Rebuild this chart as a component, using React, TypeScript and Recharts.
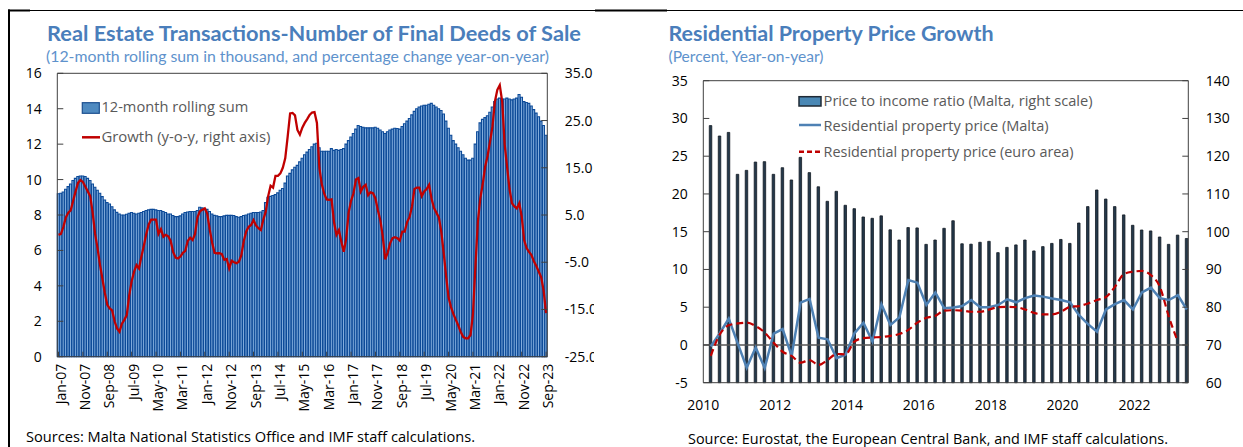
import React from 'react';
import { ComposedChart, Bar, Line, XAxis, YAxis, ReferenceLine, Legend } from 'recharts';

// ---------- Left panel data (monthly, Jan-07 .. Sep-23) ----------
const rollingSum = [
  9.2, 9.23, 9.3, 9.45, 9.6, 9.75, 9.95, 10.07, 10.17, 10.2,
  10.2, 10.17, 10.07, 9.95, 9.75, 9.57, 9.4, 9.23, 9.04, 8.85,
  8.7, 8.62, 8.47, 8.29, 8.15, 8.06, 8.0, 8.0, 8.04, 8.1,
  8.14, 8.1, 8.06, 8.1, 8.14, 8.2, 8.25, 8.29, 8.32, 8.32,
  8.29, 8.25, 8.25, 8.2, 8.14, 8.06, 8.06, 7.97, 7.91, 7.91,
  7.95, 8.06, 8.14, 8.17, 8.2, 8.2, 8.2, 8.25, 8.44, 8.4,
  8.36, 8.32, 8.2, 8.06, 7.98, 7.95, 7.91, 7.91, 7.95, 7.98,
  7.98, 7.98, 7.97, 7.91, 7.87, 7.91, 7.97, 8.0, 8.06, 8.1,
  8.14, 8.14, 8.14, 8.17, 8.25, 8.7, 9.0, 9.05, 9.1, 9.15,
  9.25, 9.4, 9.5, 9.8, 10.2, 10.35, 10.55, 10.7, 10.8, 11.0,
  11.2, 11.4, 11.55, 11.7, 11.85, 12.0, 12.05, 11.8, 11.6, 11.6,
  11.6, 11.6, 11.75, 11.65, 11.7, 11.65, 11.7, 11.75, 12.0, 12.2,
  12.4, 12.6, 12.85, 13.05, 13.0, 12.95, 12.92, 12.92, 12.92, 12.92,
  12.95, 12.9, 12.8, 12.7, 12.6, 12.7, 12.8, 12.85, 12.9, 12.88,
  12.85, 13.0, 13.15, 13.3, 13.45, 13.65, 13.85, 14.0, 14.1, 14.15,
  14.2, 14.2, 14.25, 14.3, 14.2, 14.1, 14.0, 13.9, 13.7, 13.3,
  12.9, 12.5, 12.2, 12.0, 11.8, 11.6, 11.4, 11.2, 11.1, 11.1,
  11.2, 12.0, 12.7, 13.2, 13.4, 13.5, 13.6, 13.8, 14.1, 14.4,
  14.55, 14.6, 14.55, 14.55, 14.6, 14.55, 14.5, 14.55, 14.6, 14.8,
  14.65, 14.4, 14.35, 14.3, 14.15, 13.95, 13.75, 13.55, 13.3, 13.05,
  12.5,
];

const growth = [
  0.8, 1.0, 2.5, 4.5, 5.5, 6.0, 8.0, 10.0, 11.8, 12.4,
  12.0, 11.0, 10.0, 9.0, 5.5, 1.0, -2.0, -5.5, -8.5, -11.5,
  -14.0, -14.8, -15.2, -17.5, -19.0, -19.7, -18.0, -17.2, -16.2, -12.0,
  -9.0, -7.0, -5.6, -6.3, -3.8, -1.5, 1.0, 3.0, 4.0, 4.0,
  4.0, 1.0, 2.0, 0.4, 0.8, 0.5, -0.5, -2.8, -4.0, -4.2,
  -3.8, -3.0, -2.6, -0.5, 0.2, -0.3, 1.0, 4.5, 5.8, 6.1,
  6.4, 5.3, 2.0, -0.8, -3.0, -3.1, -3.1, -3.3, -4.5, -4.3,
  -6.3, -4.7, -5.0, -5.2, -4.9, -3.5, -0.5, 1.5, 2.5, 2.9,
  3.9, 2.8, 2.2, 1.8, 4.0, 5.7, 9.0, 11.2, 10.8, 13.3,
  13.3, 13.8, 15.0, 17.0, 21.6, 26.5, 26.6, 26.1, 23.0, 22.0,
  23.5, 24.5, 25.3, 26.2, 26.7, 26.8, 24.5, 15.0, 11.5, 9.5,
  8.3, 8.2, 8.3, 3.5, 0.8, 1.8, -0.6, -2.8, 0.0, 5.5,
  8.0, 9.6, 12.5, 12.8, 10.0, 11.0, 11.4, 9.2, 9.8, 9.6,
  8.5, 6.0, 3.9, 0.5, -4.4, -3.0, -1.0, 0.1, 0.3, 0.1,
  -0.4, 1.5, 1.5, 3.5, 4.6, 6.8, 10.5, 10.8, 10.8, 9.0,
  10.0, 10.5, 11.4, 8.5, 6.5, 5.5, 4.5, 1.5, -3.0, -8.0,
  -12.5, -14.5, -16.0, -17.2, -18.4, -19.8, -20.8, -21.1, -21.1, -20.4,
  -16.0, -6.0, 3.5, 8.5, 11.5, 15.2, 17.5, 20.5, 23.7, 29.0,
  31.5, 32.5, 29.0, 20.0, 15.2, 10.5, 7.5, 6.8, 6.4, 7.5,
  4.7, -0.3, -2.0, -2.8, -3.5, -4.8, -5.8, -7.0, -8.2, -11.0,
  -15.8,
];

const MONTH_ABBR = ['Jan', 'Feb', 'Mar', 'Apr', 'May', 'Jun', 'Jul', 'Aug', 'Sep', 'Oct', 'Nov', 'Dec'];
const FIRST_YEAR = 2007;
const monthLabels = rollingSum.map(
  (_, i) => `${MONTH_ABBR[i % 12]}-${String((FIRST_YEAR + Math.floor(i / 12)) % 100).padStart(2, '0')}`
);

const leftTicks = [0, 2, 4, 6, 8, 10, 12, 14, 16];
const leftTicks2 = [-25, -15, -5, 5, 15, 25, 35];

const leftSeriesNames = ['12-month rolling sum', 'Growth (y-o-y, right axis)'];

// ---------- Right panel data (quarterly, 2010Q1 .. 2023Q2) ----------
const quarterLabels: string[] = [];
for (let y = 2010; y <= 2023; y++) for (let q = 1; q <= 4; q++) if (quarterLabels.length < 54) quarterLabels.push(`${y}Q${q}`);

const priceToIncome = [
  128.1, 125.35, 126.3, 115.2, 116.25, 118.45, 118.55, 115.2, 116.95, 113.7,
  119.7, 115.65, 111.9, 108.05, 110.7, 107.0, 106.1, 103.9, 103.55, 104.2,
  100.5, 97.8, 101.1, 101.0, 96.65, 97.8, 100.9, 102.9, 96.8, 96.7,
  97.2, 97.45, 94.45, 95.85, 96.5, 97.8, 94.9, 96.05, 96.9, 97.95,
  96.9, 102.3, 106.65, 111.05, 108.65, 106.65, 104.45, 101.7, 100.45, 100.2,
  98.6, 96.65, 99.1, 98.2,
];

const maltaPrice = [
  -0.2, 1.55, 3.5, 0.2, -3.0, -0.35, -3.05, 1.5, 2.1, -1.45,
  5.6, 6.1, 0.95, 0.75, -1.75, -1.3, 1.55, 2.95, 0.45, 5.4,
  2.65, 3.65, 8.6, 8.25, 5.3, 6.95, 4.85, 4.95, 5.15, 5.95,
  5.0, 5.0, 5.3, 6.05, 5.65, 6.2, 6.55, 6.4, 6.15, 5.95,
  5.65, 3.95, 2.75, 1.75, 4.7, 5.4, 5.95, 4.7, 6.95, 7.6,
  6.2, 5.95, 6.6, 4.7,
];

const euroPrice: (number | null)[] = [
  -1.45, 1.4, 2.6, 2.85, 2.95, 2.5, 1.65, 0.3, -0.9, -1.45,
  -2.35, -2.0, -2.65, -2.0, -1.2, -1.25, 0.45, 0.9, 1.0, 1.05,
  1.2, 1.45, 2.0, 2.95, 3.6, 3.85, 4.55, 4.6, 4.55, 4.4,
  4.4, 4.7, 5.0, 5.05, 5.0, 4.7, 4.25, 4.05, 4.05, 4.4,
  5.05, 5.15, 5.5, 5.95, 6.35, 7.7, 9.4, 9.7, 9.8, 9.25,
  7.7, 3.75, 0.45, null,
];

const rightTicks = [-5, 0, 5, 10, 15, 20, 25, 30, 35];
const rightTicks2 = [60, 70, 80, 90, 100, 110, 120, 130, 140];
const yearTicks = [2010, 2012, 2014, 2016, 2018, 2020, 2022];

const rightSeriesNames = [
  'Price to income ratio (Malta, right scale)',
  'Residential property price (Malta)',
  'Residential property price (euro area)',
];

// ---------- Build tables ----------
const leftData = monthLabels.map((m, i) => ({ month: m, sum: rollingSum[i], growth: growth[i] }));

// each quarter plotted at the middle of its last month
const quarterTime = (label: string) => {
  const y = Number(label.slice(0, 4));
  const q = Number(label.slice(5));
  return y + (q * 3 - 0.5) / 12;
};
const rightData = quarterLabels.map((q, i) => ({
  t: quarterTime(q),
  pti: priceToIncome[i],
  malta: maltaPrice[i],
  euro: euroPrice[i],
}));

// ---------- Styles ----------
const FONT = "'Open Sans', 'DejaVu Sans', sans-serif";
const TITLE_FONT = "Lato, 'Open Sans', sans-serif";
const AXIS = '#404040';
const LABEL_FS = 14;
const TITLE_COLOR = '#4A7EBB';
const SUB_COLOR = '#5E92CC';
const LEGEND_COLOR = '#595959';
const RED = '#C00000';
const BLUE_LINE = '#4E81B4';

const LeftYTick = (props: any) => {
  const { x, y, payload } = props;
  return (
    <g>
      <line x1={x} x2={x + 6} y1={y} y2={y} stroke={AXIS} />
      <text x={x - 15.5} y={y} dy={5} textAnchor="end" fontSize={LABEL_FS} fontFamily={FONT} fill="#000">
        {payload.value}
      </text>
    </g>
  );
};

const makeRightYTick = (fmt: (v: number) => string) => (props: any) => {
  const { x, y, payload } = props;
  return (
    <g>
      <line x1={x} x2={x - 6} y1={y} y2={y} stroke={AXIS} />
      <text x={x + 17.5} y={y} dy={5} textAnchor="start" fontSize={LABEL_FS} fontFamily={FONT} fill="#000">
        {fmt(payload.value)}
      </text>
    </g>
  );
};
const GrowthTick = makeRightYTick((v) => v.toFixed(1));
const RatioTick = makeRightYTick((v) => String(v));

const MonthTick = (props: any) => {
  const { x, y, payload } = props;
  return (
    <g>
      <line x1={x} x2={x} y1={y} y2={y - 5} stroke={AXIS} />
      <text
        transform={`translate(${x + 7},${y + 7}) rotate(-90)`}
        textAnchor="end"
        fontSize={LABEL_FS}
        fontFamily={FONT}
        fill="#000"
      >
        {payload.value}
      </text>
    </g>
  );
};

const YearTick = (props: any) => {
  const { x, y, payload } = props;
  return (
    <text x={x} y={y + 27} textAnchor="middle" fontSize={LABEL_FS} fontFamily={FONT} fill="#000">
      {payload.value}
    </text>
  );
};

const LeftLegend = () => (
  <svg width={200} height={50} style={{ display: 'block' }}>
    <rect x={4.3} y={6.7} width={17} height={10.6} fill="#4F8AC0" stroke="#1C4F8F" strokeWidth={1.2} />
    <text x={23.4} y={11.3} dy={5} fontSize={14.5} fontFamily={FONT} fill={LEGEND_COLOR} textLength={147} lengthAdjust="spacingAndGlyphs">
      {leftSeriesNames[0]}
    </text>
    <line x1={4} x2={22} y1={41.3} y2={41.3} stroke={RED} strokeWidth={2.5} />
    <text x={23.4} y={40.7} dy={5} fontSize={14.5} fontFamily={FONT} fill={LEGEND_COLOR} textLength={169} lengthAdjust="spacingAndGlyphs">
      {leftSeriesNames[1]}
    </text>
  </svg>
);

const RightLegend = () => (
  <svg width={300} height={75} style={{ display: 'block' }}>
    <rect x={4} y={6.7} width={22} height={9.3} fill="#4A88B5" stroke="#1F2A35" strokeWidth={1.5} />
    <text x={28.6} y={10.5} dy={5} fontSize={14.5} fontFamily={FONT} fill={LEGEND_COLOR} textLength={269} lengthAdjust="spacingAndGlyphs">
      {rightSeriesNames[0]}
    </text>
    <line x1={4} x2={26} y1={35} y2={35} stroke={BLUE_LINE} strokeWidth={2.5} />
    <text x={28.6} y={36} dy={5} fontSize={14.5} fontFamily={FONT} fill={LEGEND_COLOR} textLength={225} lengthAdjust="spacingAndGlyphs">
      {rightSeriesNames[1]}
    </text>
    <line x1={4} x2={26} y1={61.7} y2={61.7} stroke={RED} strokeWidth={2.5} strokeDasharray="5 3" />
    <text x={28.6} y={61.7} dy={5} fontSize={14.5} fontFamily={FONT} fill={LEGEND_COLOR} textLength={250} lengthAdjust="spacingAndGlyphs">
      {rightSeriesNames[2]}
    </text>
  </svg>
);

export default function App() {
  return (
    <div style={{ position: 'absolute', left: 0, top: 0, width: 1243, height: 447, background: '#fff', overflow: 'hidden' }}>
      <svg style={{ position: 'absolute', left: 0, top: 0 }} width={1243} height={447}>
        <line x1={8} x2={1243} y1={10.5} y2={10.5} stroke="#000" strokeWidth={1} />
        <line x1={8} x2={30} y1={10.5} y2={10.5} stroke="#000" strokeWidth={2} />
        <line x1={595} x2={667} y1={10.5} y2={10.5} stroke="#000" strokeWidth={2} />
        <line x1={9} x2={9} y1={9.5} y2={447} stroke="#000" strokeWidth={2} />

        <text x={47} y={41} fontFamily={TITLE_FONT} fontWeight={700} fontSize={20.5} fill={TITLE_COLOR} textLength={534} lengthAdjust="spacingAndGlyphs">
          Real Estate Transactions-Number of Final Deeds of Sale
        </text>
        <text x={46} y={61.5} fontFamily={TITLE_FONT} fontSize={15.5} fill={SUB_COLOR} textLength={503} lengthAdjust="spacingAndGlyphs">
          (12-month rolling sum in thousand, and percentage change year-on-year)
        </text>
        <text x={26} y={442} fontFamily={FONT} fontSize={14} fill="#000" textLength={449} lengthAdjust="spacingAndGlyphs">
          Sources: Malta National Statistics Office and IMF staff calculations.
        </text>

        <text x={668.5} y={41} fontFamily={TITLE_FONT} fontWeight={700} fontSize={20.5} fill={TITLE_COLOR} textLength={325} lengthAdjust="spacingAndGlyphs">
          Residential Property Price Growth
        </text>
        <text x={668.5} y={61.5} fontFamily={TITLE_FONT} fontSize={15.5} fill={SUB_COLOR} textLength={155} lengthAdjust="spacingAndGlyphs">
          (Percent, Year-on-year)
        </text>
        <text x={688} y={444} fontFamily={FONT} fontSize={14} fill="#000" textLength={480} lengthAdjust="spacingAndGlyphs">
          Source: Eurostat, the European Central Bank, and IMF staff calculations.
        </text>
      </svg>

      {/* Left chart */}
      <div style={{ position: 'absolute', left: 0, top: 0, width: 594, height: 447, overflow: 'hidden' }}>
        <ComposedChart
          width={620}
          height={447}
          data={leftData}
          margin={{ top: 73.3, right: 22.7, bottom: 30.3, left: 17.3 }}
          barCategoryGap={0}
          barGap={0}
        >
          <XAxis
            dataKey="month"
            interval={9}
            tickSize={0}
            tickMargin={0}
            height={60}
            axisLine={{ stroke: AXIS }}
            tick={MonthTick}
          />
          <YAxis
            yAxisId="left"
            domain={[0, 16]}
            ticks={leftTicks}
            interval={0}
            width={40}
            tickSize={0}
            tickMargin={0}
            axisLine={{ stroke: AXIS }}
            tick={LeftYTick}
          />
          <YAxis
            yAxisId="right"
            orientation="right"
            domain={[-25, 35]}
            ticks={leftTicks2}
            interval={0}
            width={50}
            tickSize={0}
            tickMargin={0}
            axisLine={{ stroke: AXIS }}
            tick={GrowthTick}
          />
          <ReferenceLine yAxisId="left" y={16} stroke={AXIS} />
          <Bar
            yAxisId="left"
            dataKey="sum"
            name={leftSeriesNames[0]}
            fill="#8FB8E4"
            stroke="#0C4A98"
            strokeWidth={1.1}
            isAnimationActive={false}
          />
          <Line
            yAxisId="right"
            dataKey="growth"
            name={leftSeriesNames[1]}
            type="linear"
            stroke={RED}
            strokeWidth={2.3}
            dot={false}
            activeDot={false}
            isAnimationActive={false}
          />
          <Legend
            layout="vertical"
            align="center"
            verticalAlign="middle"
            wrapperStyle={{ left: 78, top: 96, width: 200, height: 50 }}
            content={() => <LeftLegend />}
          />
        </ComposedChart>
      </div>

      {/* Right chart */}
      <div style={{ position: 'absolute', left: 620, top: 0, width: 623, height: 447 }}>
        <ComposedChart
          width={623}
          height={447}
          data={rightData}
          margin={{ top: 80.7, right: 4.7, bottom: 34.3, left: 43.3 }}
        >
          <XAxis
            type="number"
            dataKey="t"
            domain={[2010, 2023.5]}
            ticks={yearTicks}
            interval={0}
            tickSize={0}
            tickMargin={0}
            height={30}
            axisLine={{ stroke: AXIS }}
            tick={YearTick}
          />
          <YAxis
            yAxisId="left"
            domain={[-5, 35]}
            ticks={rightTicks}
            interval={0}
            width={40}
            tickSize={0}
            tickMargin={0}
            axisLine={{ stroke: AXIS }}
            tick={LeftYTick}
          />
          <YAxis
            yAxisId="right"
            orientation="right"
            domain={[60, 140]}
            ticks={rightTicks2}
            interval={0}
            width={50}
            tickSize={0}
            tickMargin={0}
            axisLine={{ stroke: AXIS }}
            tick={RatioTick}
          />
          <ReferenceLine yAxisId="left" y={35} stroke={AXIS} />
          <ReferenceLine yAxisId="left" y={0} stroke="#555" strokeWidth={1.5} />
          <Bar
            yAxisId="right"
            dataKey="pti"
            name={rightSeriesNames[0]}
            barSize={2.5}
            fill="#24384A"
            stroke="#141C24"
            strokeWidth={0.8}
            isAnimationActive={false}
          />
          <Line
            yAxisId="left"
            dataKey="malta"
            name={rightSeriesNames[1]}
            type="linear"
            stroke={BLUE_LINE}
            strokeWidth={2.5}
            dot={false}
            activeDot={false}
            isAnimationActive={false}
          />
          <Line
            yAxisId="left"
            dataKey="euro"
            name={rightSeriesNames[2]}
            type="monotone"
            stroke={RED}
            strokeWidth={2.2}
            strokeDasharray="7 4"
            dot={false}
            activeDot={false}
            isAnimationActive={false}
          />
          <Legend
            layout="vertical"
            align="center"
            verticalAlign="middle"
            wrapperStyle={{ left: 175, top: 90, width: 300, height: 75 }}
            content={() => <RightLegend />}
          />
        </ComposedChart>
      </div>
    </div>
  );
}
